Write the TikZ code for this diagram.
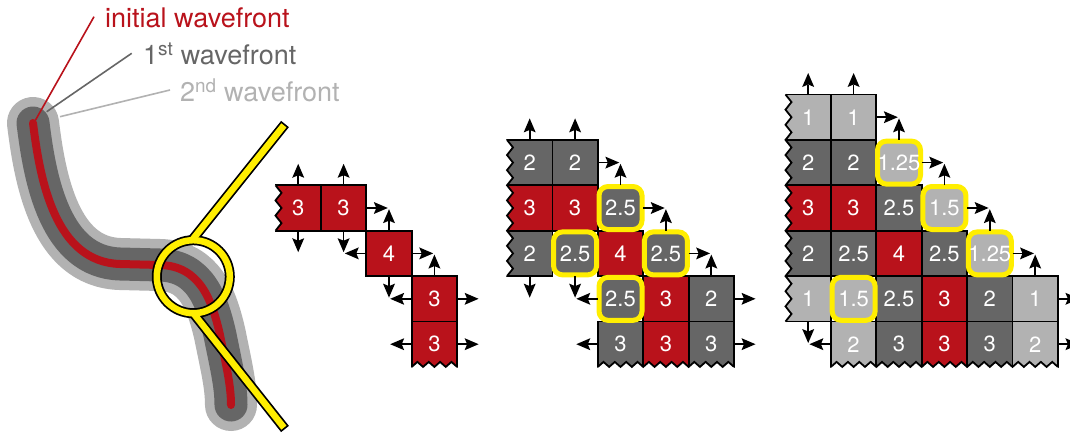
\documentclass[tikz,border=0pt]{standalone}
\usepackage{fontspec}
\setmainfont{TeX Gyre Heros}
\usetikzlibrary{calc}
\definecolor{wred}{RGB}{185,18,27}
\definecolor{wdark}{RGB}{102,102,102}
\definecolor{wlight}{RGB}{178,178,178}
\definecolor{wyel}{RGB}{255,238,0}
\tikzset{
 cellbox/.style={draw=black, line width=1.8pt, minimum width=45.4pt, minimum height=45.4pt, inner sep=0pt, outer sep=0pt, text=white, font=\fontsize{22}{24}\selectfont},
 hibox/.style={draw=wyel, line width=5pt, rounded corners=9pt, minimum width=43pt, minimum height=43pt, inner sep=0pt, outer sep=1.2pt, text=white, font=\fontsize{22}{24}\selectfont},
 shaft/.style={line width=1.7pt},
 ahead/.style={fill=black},
 band/.style={line cap=round, line join=round},
 lbl/.style={anchor=base west, font=\fontsize{27}{32}\selectfont, inner sep=0pt},
 leader/.style={line width=1.6pt},
 zig/.style={line width=1.8pt, line join=miter},
}
\def\cs{45.4}
\def\rz{185.3}
\newcommand\mkcell[6]{\node[cellbox,fill=#5] (#1) at ({#2+(#4+0.5)*\cs},{\rz+(#3+0.5)*\cs}) {#6};}
\newcommand\mkhi[6]{\node[hibox,fill=#5] (#1) at ({#2+(#4+0.5)*\cs},{\rz+(#3+0.5)*\cs}) {#6};}
\newcommand\arN[1]{\draw[shaft] (#1.north) -- ++(0,-10);
 \fill[ahead] ($(#1.north)+(0,-21.5)$) -- ++(-6,14) -- ++(6,-2.5) -- ++(6,2.5) -- cycle;}
\newcommand\arS[1]{\draw[shaft] (#1.south) -- ++(0,10);
 \fill[ahead] ($(#1.south)+(0,21.5)$) -- ++(-6,-14) -- ++(6,2.5) -- ++(6,-2.5) -- cycle;}
\newcommand\arE[1]{\draw[shaft] (#1.east) -- ++(10,0);
 \fill[ahead] ($(#1.east)+(21.5,0)$) -- ++(-14,-6) -- ++(2.5,6) -- ++(-2.5,6) -- cycle;}
\newcommand\arW[1]{\draw[shaft] (#1.west) -- ++(-10,0);
 \fill[ahead] ($(#1.west)+(-21.5,0)$) -- ++(14,-6) -- ++(-2.5,6) -- ++(2.5,6) -- cycle;}
\newcommand\zigleft[3]{%
 \pgfmathsetmacro\zt{\rz+(#2)*\cs}%
 \pgfmathsetmacro\zb{\rz+(#3+1)*\cs}%
 \pgfmathtruncatemacro\zn{6*(#3-(#2)+1)}%
 \pgfmathsetmacro\zh{(\zb-\zt)/\zn}%
 \fill[white] ({#1-4},{\zt-1}) -- ({#1},{\zt}) \foreach \k in {1,...,\zn} {-- ({#1+mod(\k,2)*6},{\zt+\k*\zh})} -- ({#1-4},{\zb+1}) -- cycle;
 \draw[zig] ({#1},{\zt}) \foreach \k in {1,...,\zn} {-- ({#1+mod(\k,2)*6},{\zt+\k*\zh})};
}
\newcommand\zigbot[3]{%
 \pgfmathsetmacro\zl{#1+(#2)*\cs}%
 \pgfmathsetmacro\zr{#1+(#3+1)*\cs}%
 \pgfmathtruncatemacro\zn{8*(#3-(#2)+1)}%
 \pgfmathsetmacro\zh{(\zr-\zl)/\zn}%
 \pgfmathsetmacro\zy{\rz+4*\cs}%
 \fill[white] ({\zl-1},{\zy+4}) -- ({\zl},{\zy}) \foreach \k in {1,...,\zn} {-- ({\zl+\k*\zh},{\zy-mod(\k,2)*5})} -- ({\zr+1},{\zy+4}) -- cycle;
 \draw[zig] ({\zl},{\zy}) \foreach \k in {1,...,\zn} {-- ({\zl+\k*\zh},{\zy-mod(\k,2)*5})};
}
\begin{document}
\begin{tikzpicture}[x=1pt,y=-1pt]
\clip (0,0) rectangle (1070,434);
\fill[white] (0,0) rectangle (1070,434);
% ---------- wavefront ----------
\def\wpath{(33,123) .. controls (40,180) and (55,262) .. (120,264) -- (160,265) .. controls (200,266) and (212,300) .. (220,335) .. controls (226,365) and (231,385) .. (231,405)}
\draw[band, wlight, line width=52pt] \wpath;
\draw[band, wdark, line width=33pt] \wpath;
\draw[band, wred, line width=8pt] \wpath;
% labels
\node[lbl, text=wred] (l0) at (105,27) {initial wavefront};
\node[lbl, text=wdark] (l1) at (143,64.3) {1\textsuperscript{st} wavefront};
\node[lbl, text=wlight] (l2) at (180,101.7) {2\textsuperscript{nd} wavefront};
\coordinate (s0) at (94,16.7);
\coordinate (e0) at (35,121);
\coordinate (s1) at (131.7,53.3);
\coordinate (e1) at (46.7,111.7);
\coordinate (s2) at (170,90);
\coordinate (e2) at (60,116.7);
\draw[leader, wlight] (s2) -- (e2);
\draw[leader, wdark] (s1) -- (e1);
\draw[leader, wred] (s0) -- (e0);
% magnifier
\coordinate (mag) at (193.3,276.7);
\coordinate (magtop) at (192,240.2);
\coordinate (magbot) at (193.3,313.2);
\coordinate (magT) at (285,124);
\coordinate (magB) at (285,429);
\draw[black, line width=10pt] (mag) circle (36.5);
\draw[black, line width=10pt] (magtop) -- (magT);
\draw[black, line width=10pt] (magbot) -- (magB);
\draw[wyel, line width=6.5pt] (mag) circle (36.5);
\draw[wyel, line width=6.5pt, shorten >=1.75pt] (magtop) -- (magT);
\draw[wyel, line width=6.5pt, shorten >=1.75pt] (magbot) -- (magB);
% ---------- grid 1 ----------
\def\ga{275.5}
\mkcell{a00}{\ga}{0}{0}{wred}{3}
\mkcell{a01}{\ga}{0}{1}{wred}{3}
\mkcell{a12}{\ga}{1}{2}{wred}{4}
\mkcell{a23}{\ga}{2}{3}{wred}{3}
\mkcell{a33}{\ga}{3}{3}{wred}{3}
\zigleft{\ga}{0}{0}
\zigbot{\ga}{3}{3}
\arN{a00}\arS{a00}
\arN{a01}\arS{a01}\arE{a01}
\arN{a12}\arS{a12}\arW{a12}\arE{a12}
\arN{a23}\arW{a23}\arE{a23}
\arW{a33}\arE{a33}
% ---------- grid 2 ----------
\def\gb{507}
\mkcell{b00}{\gb}{-1}{0}{wdark}{2}
\mkcell{b01}{\gb}{-1}{1}{wdark}{2}
\mkcell{b10}{\gb}{0}{0}{wred}{3}
\mkcell{b11}{\gb}{0}{1}{wred}{3}
\mkcell{b20}{\gb}{1}{0}{wdark}{2}
\mkcell{b22}{\gb}{1}{2}{wred}{4}
\mkcell{b33}{\gb}{2}{3}{wred}{3}
\mkcell{b34}{\gb}{2}{4}{wdark}{2}
\mkcell{b42}{\gb}{3}{2}{wdark}{3}
\mkcell{b43}{\gb}{3}{3}{wred}{3}
\mkcell{b44}{\gb}{3}{4}{wdark}{3}
\mkhi{b12}{\gb}{0}{2}{wdark}{2.5}
\mkhi{b21}{\gb}{1}{1}{wdark}{2.5}
\mkhi{b23}{\gb}{1}{3}{wdark}{2.5}
\mkhi{b32}{\gb}{2}{2}{wdark}{2.5}
\zigleft{\gb}{-1}{1}
\zigbot{\gb}{2}{4}
\arN{b00}
\arN{b01}\arE{b01}
\arN{b12}\arE{b12}
\arN{b23}\arE{b23}
\arS{b20}\arS{b21}
\arW{b32}
\arN{b34}\arE{b34}
\arW{b42}\arE{b44}
% ---------- grid 3 ----------
\def\gc{785.5}
\mkcell{c00}{\gc}{-2}{0}{wlight}{1}
\mkcell{c01}{\gc}{-2}{1}{wlight}{1}
\mkcell{c10}{\gc}{-1}{0}{wdark}{2}
\mkcell{c11}{\gc}{-1}{1}{wdark}{2}
\mkcell{c20}{\gc}{0}{0}{wred}{3}
\mkcell{c21}{\gc}{0}{1}{wred}{3}
\mkcell{c22}{\gc}{0}{2}{wdark}{2.5}
\mkcell{c30}{\gc}{1}{0}{wdark}{2}
\mkcell{c31}{\gc}{1}{1}{wdark}{2.5}
\mkcell{c32}{\gc}{1}{2}{wred}{4}
\mkcell{c33}{\gc}{1}{3}{wdark}{2.5}
\mkcell{c40}{\gc}{2}{0}{wlight}{1}
\mkcell{c42}{\gc}{2}{2}{wdark}{2.5}
\mkcell{c43}{\gc}{2}{3}{wred}{3}
\mkcell{c44}{\gc}{2}{4}{wdark}{2}
\mkcell{c45}{\gc}{2}{5}{wlight}{1}
\mkcell{c51}{\gc}{3}{1}{wlight}{2}
\mkcell{c52}{\gc}{3}{2}{wdark}{3}
\mkcell{c53}{\gc}{3}{3}{wred}{3}
\mkcell{c54}{\gc}{3}{4}{wdark}{3}
\mkcell{c55}{\gc}{3}{5}{wlight}{2}
\mkhi{c12}{\gc}{-1}{2}{wlight}{1.25}
\mkhi{c23}{\gc}{0}{3}{wlight}{1.5}
\mkhi{c34}{\gc}{1}{4}{wlight}{1.25}
\mkhi{c41}{\gc}{2}{1}{wlight}{1.5}
\zigleft{\gc}{-2}{2}
\zigbot{\gc}{1}{5}
\arN{c00}
\arN{c01}\arE{c01}
\arN{c12}\arE{c12}
\arN{c23}\arE{c23}
\arN{c34}\arE{c34}
\arN{c45}\arE{c45}
\arE{c55}
\arS{c40}\arW{c51}
\end{tikzpicture}
\end{document}
